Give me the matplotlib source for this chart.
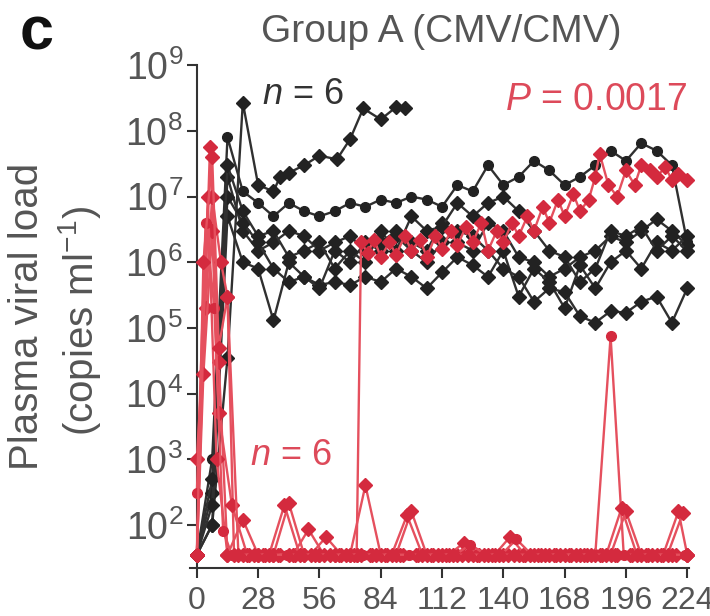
import matplotlib
matplotlib.use("Agg")
import matplotlib.pyplot as plt

plt.rcParams['font.family'] = ['Liberation Sans', 'DejaVu Sans']
plt.rcParams['mathtext.fontset'] = 'custom'
plt.rcParams['mathtext.rm'] = 'Liberation Sans'
plt.rcParams['mathtext.it'] = 'Liberation Sans:italic'
plt.rcParams['mathtext.bf'] = 'Liberation Sans:bold'

# detection limit (copies/ml)
LOD = 35

weekly = [0, 7, 14, 21, 28, 35, 42, 49, 56, 63, 70, 77, 84, 91, 98, 105, 112,
          119, 126, 133, 140, 147, 154, 161, 168, 175, 182, 189, 196, 203, 210, 217, 224]

# black animals (group A, CMV/CMV, uncontrolled)
black1_days = [0, 7, 14, 21, 28, 35, 38, 42, 49, 56, 64, 70, 76, 84, 91, 95]
black1 = [LOD, 100, 3.5e4, 2.7e8, 1.5e7, 1.2e7, 2e7, 2.3e7, 3e7, 4.2e7, 3.7e7, 7.5e7, 2.2e8, 1.5e8, 2.3e8, 2.2e8]
black2 = [LOD, 1e3, 8e7, 1.2e7, 8e6, 5e6, 8e6, 6e6, 5e6, 6e6,
          8e6, 7e6, 9e6, 8e6, 1e7, 9e6, 7e6, 1.5e7, 1.2e7, 3e7,
          1.5e7, 2e7, 3.5e7, 2.5e7, 1.5e7, 2e7, 3e7, 5e7, 3.5e7, 6.5e7,
          5e7, 3e7, 2e6]
black3 = [LOD, 300, 2e7, 3e6, 1.5e6, 2e6, 3e6, 2.5e6, 1.5e6, 2e6,
          2.5e6, 1.5e6, 2e6, 3e6, 2e6, 1.5e6, 4e6, 2e6, 1.5e6, 4e6,
          3e6, 1.2e6, 1e6, 6e5, 8e5, 1.2e6, 1.5e6, 2.5e6, 2e6, 3e6,
          4.5e6, 3e6, 1.8e6]
black4 = [LOD, 100, 5e6, 1e6, 8e5, 1.3e5, 1e6, 6e5, 4.5e5, 5e5,
          4.5e5, 6e5, 5e5, 8e5, 6e5, 4e5, 7e5, 1.2e6, 9e5, 6e5,
          1.5e6, 3e5, 8e5, 5e5, 2e5, 9e5, 4e5, 1e6, 1.5e6, 8e5,
          2e6, 1.5e6, 2.5e6]
black5 = [LOD, 200, 1e7, 4e6, 2e6, 8e5, 5e5, 6e5, 4e5, 1.5e6,
          1e6, 2e6, 1.5e6, 2.5e6, 1.5e6, 1e6, 2e6, 3e6, 2.5e6, 1.5e6,
          8e5, 6e5, 2.5e5, 4e5, 3.5e5, 1.5e5, 1.2e5, 1.8e5, 1.7e5, 2.5e5,
          3e5, 1.2e5, 4e5]
black6 = [LOD, 500, 3e7, 6e6, 2.5e6, 3e6, 1.2e6, 1.5e6, 2e6, 8e5,
          1.5e6, 1e6, 3e6, 1.5e6, 5e6, 3e6, 3.5e6, 8e6, 5e6, 8e6,
          1e7, 6e6, 3e6, 1.5e6, 1.2e6, 5e5, 8e5, 3e6, 2.5e6, 3.5e6,
          1.5e6, 2.5e6, 1.5e6]

# red animals (controllers)
red1_days = [0, 6, 10, 14, 21, 28, 35, 42, 49, 56, 63, 70, 77, 84, 91, 98, 105, 112,
             119, 126, 133, 140, 147, 154, 161, 168, 175, 182, 189, 196, 203, 210, 217, 224]
red1 = [LOD, 5.6e7, 3e4, LOD, 120, LOD, LOD, 215, LOD, LOD, LOD, LOD, 400, LOD, LOD, 160, LOD, LOD,
        LOD, LOD, LOD, LOD, LOD, LOD, LOD, LOD, LOD, LOD, LOD, 160, LOD, LOD, LOD, LOD]

red2_days = [0, 4, 7, 11, 14, 17, 24, 31, 38, 45, 52, 59, 66, 73, 80, 87, 94, 101,
             108, 115, 122, 129, 136, 143, 150, 157, 164, 171, 178, 185, 192, 199, 206, 213, 220, 224]
red2 = [1e3, 2e5, 1e7, 1e6, 3e5, LOD, LOD, LOD, LOD, LOD, LOD, 65, LOD, LOD, LOD, LOD, LOD, LOD,
        LOD, LOD, 53, LOD, LOD, 65, LOD, LOD, LOD, LOD, LOD, LOD, LOD, LOD, LOD, LOD, 160, LOD]

red3_days = [0, 3, 7, 10, 16, 23, 30, 37, 44, 51, 58, 65, 72, 79, 86, 93, 100, 107,
             114, 121, 128, 135, 142, 149, 156, 163, 170, 177, 184, 191, 198, 205, 212, 219, 224]
red3 = [LOD, 2e4, 3e6, 5e3, 200, LOD, LOD, LOD, LOD, 85, LOD, LOD, LOD, LOD, LOD, LOD, LOD, LOD,
        LOD, LOD, LOD, LOD, LOD, LOD, LOD, LOD, LOD, LOD, LOD, LOD, LOD, LOD, LOD, LOD, LOD]

red4_days = [0, 5, 9, 14, 21, 28, 35, 42, 49, 56, 63, 70, 73, 75, 78, 81, 84, 88, 91, 95,
             98, 102, 105, 109, 112, 116, 119, 123, 126, 130, 133, 137, 140, 144, 147, 151,
             154, 158, 161, 165, 168, 172, 175, 179, 182, 184, 188, 192, 196, 200, 203, 207,
             210, 214, 217, 220, 224]
red4 = [LOD, 1e7, 1e3, LOD, LOD, LOD, LOD, LOD, LOD, LOD, LOD, LOD, LOD, 2e6, 1.4e6, 2.2e6, 1.2e6, 2e6, 1.3e6, 2.5e6,
        1.5e6, 2.2e6, 1.2e6, 2.5e6, 1.6e6, 3e6, 1.8e6, 3.5e6, 2e6, 4e6, 1.5e6, 3e6, 2e6, 4e6, 2.5e6, 5e6,
        3e6, 7e6, 4e6, 9e6, 5e6, 1.1e7, 6e6, 9e6, 2e7, 4.5e7, 1.5e7, 1e7, 2.5e7, 1.5e7, 3e7, 2.5e7,
        2e7, 2.8e7, 1.8e7, 2.2e7, 1.8e7]

red5_days = [0, 4, 8, 12, 16, 20, 27, 34, 41, 48, 55, 62, 69, 76, 83, 90, 97, 104,
             111, 118, 125, 132, 139, 146, 153, 160, 167, 174, 182, 189, 195, 202, 209, 216, 223]
red5 = [300, 4e6, 2e5, 80, LOD, LOD, LOD, LOD, LOD, LOD, LOD, LOD, LOD, LOD, LOD, LOD, LOD, LOD,
        LOD, LOD, 50, LOD, LOD, 60, LOD, LOD, LOD, LOD, LOD, 7.4e4, LOD, LOD, LOD, LOD, LOD]

red6_days = [0, 3, 7, 10, 14, 19, 26, 33, 40, 47, 54, 61, 68, 75, 82, 89, 96, 103,
             110, 117, 124, 131, 138, 145, 152, 159, 166, 173, 180, 187, 194, 201, 208, 215, 222]
red6 = [LOD, 1e6, 4e7, 5e4, 3e5, LOD, LOD, LOD, 200, LOD, LOD, LOD, LOD, LOD, LOD, LOD, 140, LOD,
        LOD, LOD, LOD, LOD, LOD, LOD, LOD, LOD, LOD, LOD, LOD, LOD, 180, LOD, LOD, LOD, 150]

xticks = [0, 28, 56, 84, 112, 140, 168, 196, 224]
yticks = [1e2, 1e3, 1e4, 1e5, 1e6, 1e7, 1e8, 1e9]
ytick_labels = ['$10^{2}$', '$10^{3}$', '$10^{4}$', '$10^{5}$', '$10^{6}$', '$10^{7}$', '$10^{8}$', '$10^{9}$']

black_series = [(black1_days, black1, 'D'), (weekly, black2, 'o'), (weekly, black3, 'D'),
                (weekly, black4, 'D'), (weekly, black5, 'D'), (weekly, black6, 'D')]
red_series = [(red1_days, red1, 'D'), (red2_days, red2, 'D'), (red3_days, red3, 'D'),
              (red4_days, red4, 'D'), (red5_days, red5, 'o'), (red6_days, red6, 'D')]

grey = '#555555'
black_line = '#303030'
red_line = '#e5505e'
red_mark = '#d42a3e'

fig = plt.figure(figsize=(7.1, 6.16), dpi=100)
ax = fig.add_axes([0.268, 0.078, 0.703, 0.816])

for days, vals, m in black_series:
    ax.plot(days, vals, color=black_line, lw=1.7, marker=m, ms=7,
            mfc='#222222', mec='#222222', clip_on=False, zorder=2)
for days, vals, m in red_series:
    ax.plot(days, vals, color=red_line, lw=1.7, marker=m, ms=7,
            mfc=red_mark, mec=red_mark, clip_on=False, zorder=3)

ax.set_yscale('log')
ax.set_ylim(22, 1e9)
ax.set_xlim(-3, 225)
ax.spines['left'].set_position(('data', 0))
ax.spines['top'].set_visible(False)
ax.spines['right'].set_visible(False)
for s in ['left', 'bottom']:
    ax.spines[s].set_linewidth(1.5)
    ax.spines[s].set_color('#333333')

ax.set_xticks(xticks)
ax.set_xticklabels([str(t) for t in xticks], fontsize=23, color=grey)
ax.set_yticks(yticks)
ax.set_yticklabels(ytick_labels, fontsize=27, color=grey)
ax.minorticks_off()
ax.tick_params(axis='both', direction='out', length=7, width=1.5, color='#333333')
ax.tick_params(axis='x', pad=6)
ax.tick_params(axis='y', pad=3)

fig.text(0.621, 0.948, 'Group A (CMV/CMV)', fontsize=28, color=grey, ha='center', va='center')
fig.text(0.052, 0.945, 'c', fontsize=44, fontweight='bold', color='#111111', ha='center', va='center')
fig.text(0.038, 0.486, 'Plasma viral load', fontsize=29, color=grey, rotation=90, ha='center', va='center')
fig.text(0.112, 0.478, '(copies ml$^{-1}$)', fontsize=29, color=grey, rotation=90, ha='center', va='center')

fig.text(0.427, 0.846, '$n$ = 6', fontsize=26, color='#333333', ha='center', va='center')
fig.text(0.840, 0.838, '$P$ = 0.0017', fontsize=27, color='#dd4a5a', ha='center', va='center')
fig.text(0.410, 0.261, '$n$ = 6', fontsize=26, color='#dd4a5a', ha='center', va='center')

fig.savefig('out.png', dpi=100)
